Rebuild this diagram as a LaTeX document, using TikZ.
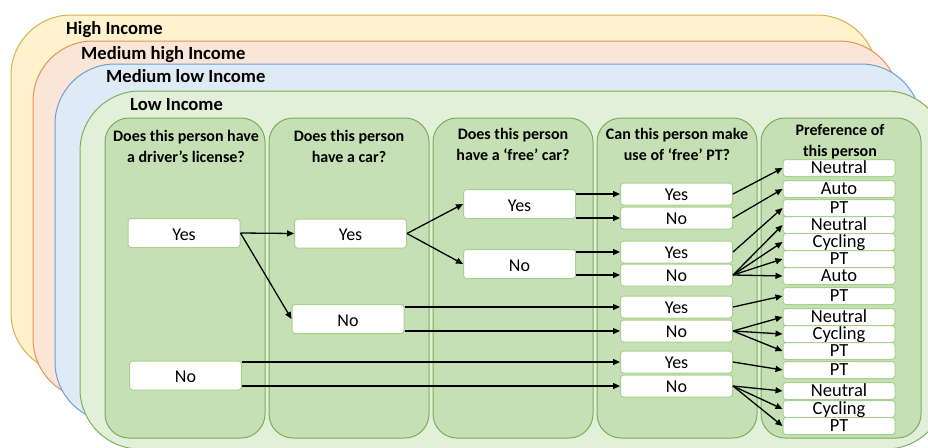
\documentclass[tikz,border=0pt]{standalone}
\usepackage{fontspec}
\setmainfont{Carlito}
\usepackage{xcolor}
\usetikzlibrary{positioning,arrows.meta,calc}

\definecolor{hiFill}{HTML}{FFF2CC} \definecolor{hiLine}{HTML}{D6B04C}
\definecolor{mhFill}{HTML}{FBE5D6} \definecolor{mhLine}{HTML}{E8915A}
\definecolor{mlFill}{HTML}{DEEBF7} \definecolor{mlLine}{HTML}{6C9FD4}
\definecolor{loFill}{HTML}{E2F0D9} \definecolor{loLine}{HTML}{7EAF5F}
\definecolor{colFill}{HTML}{C5E0B4} \definecolor{colLine}{HTML}{7BAE5B}
\definecolor{boxLine}{HTML}{A9D18E}

\begin{document}
\begin{tikzpicture}[x=1pt, y=-1pt, >={Triangle[length=7pt,width=6pt]},
  layer/.style={line width=1pt, rounded corners=60pt},
  title/.style={anchor=base west, inner sep=0pt, font=\bfseries\fontsize{18.6}{21}\selectfont},
  colbox/.style={fill=colFill, draw=colLine, line width=1pt, rounded corners=24pt},
  head/.style={align=center, anchor=base, inner sep=0pt, font=\bfseries\fontsize{16}{20.5}\selectfont},
  optbox/.style={draw=boxLine, fill=white, line width=1pt, rounded corners=3pt, minimum width=112pt,
    inner sep=0pt, text height=15pt, text depth=1pt, font=\fontsize{18}{20}\selectfont},
  bigbox/.style={optbox, minimum height=29pt},
  smallbox/.style={optbox, minimum height=22pt, text height=14pt, text depth=2pt},
  prefbox/.style={optbox, minimum height=17pt, text height=13.5pt, text depth=3pt, font=\fontsize{18.5}{20}\selectfont},
  link/.style={->, line width=1.3pt}]
\clip (0,0) rectangle (928,447);

% income layers, back to front
\foreach \lay/\x/\y/\tx/\ty/\n in {hi/11/15/66/34/High Income, mh/33/41/81/59/Medium high Income,
    ml/55/64/106/82/Medium low Income, lo/80/91/130/110/Low Income}{
  \draw[layer, fill=\lay Fill, draw=\lay Line] (\x,\y) rectangle ++(866,358);
  \node[title] (t\lay) at (\tx,\ty) {\n};
}

% question columns
\foreach \x in {105,269,433,597,761}
  \draw[colbox] (\x,118) rectangle ++(160,320);
\foreach \i/\x/\y/\q in {1/186/162/{Does this person have\\a driver’s license?},
    2/349/162/{Does this person\\have a car?},
    3/513/160/{Does this person\\have a ‘free’ car?},
    4/677/160/{Can this person make\\use of ‘free’ PT?},
    5/840/156/{Preference of\\this person}}
  \node[head] (h\i) at (\x,\y) {\q};

% answers
\node[bigbox] (d1) at (184,233) {Yes};
\node[bigbox] (d2) at (185.5,375.5) {No};
\node[bigbox] (c1) at (350.5,233.5) {Yes};
\node[bigbox] (c2) at (348,319) {No};
\node[bigbox] (f1) at (519.5,204) {Yes};
\node[bigbox] (f2) at (519.5,264) {No};
\foreach \i/\y/\t in {1/194/Yes, 2/218/No, 3/252/Yes, 4/275/No, 5/307/Yes, 6/331/No, 7/362/Yes, 8/386/No}
  \node[smallbox] (a\i) at (676.5,\y) {\t};
\foreach \i/\y/\t in {1/168/Neutral, 2/189/Auto, 3/208/PT, 4/225/Neutral, 5/242/Cycling, 6/259/PT,
    7/276/Auto, 8/296/PT, 9/317/Neutral, 10/334/Cycling, 11/351/PT, 12/370/PT, 13/391/Neutral,
    14/409/Cycling, 15/426/PT}
  \node[prefbox] (p\i) at (839,\y) {\t};

% connectors
\foreach \s/\t in {d1/c1, d1/c2, c1/f1, c1/f2, a1/p1, a2/p2, a3/p3, a4/p4, a4/p5, a4/p6, a4/p7,
    a5/p8, a6/p9, a6/p10, a6/p11, a7/p12, a8/p13, a8/p14, a8/p15}
  \draw[link] (\s.east) -- (\t.west);
\foreach \s/\t in {f1/a1, f1/a2, f2/a3, f2/a4, c2/a5, c2/a6, d2/a7, d2/a8}
  \draw[link] (\s.east |- \t.west) -- (\t.west);
\end{tikzpicture}
\end{document}
